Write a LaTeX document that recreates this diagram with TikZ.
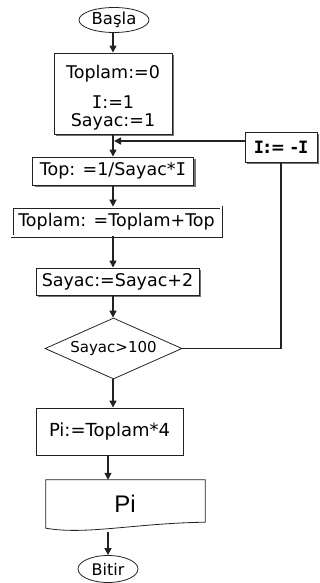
\documentclass[tikz,border=0pt]{standalone}
\usepackage{fontspec}
\setmainfont{DejaVu Sans}
\newfontfamily\pifont{Liberation Sans}
\newfontfamily\serI{DejaVu Sans Mono}
\newcommand\Iv{{\serI I}}
\usetikzlibrary{shapes.geometric,arrows.meta,shadows}
\definecolor{ln}{HTML}{222222}
\begin{document}
\begin{tikzpicture}[x=1pt,y=-1pt,
  box/.style={draw=ln, line width=0.9pt, fill=white, inner sep=0pt},
  shbox/.style={box, drop shadow={shadow xshift=2pt, shadow yshift=-2pt, fill=black!55, opacity=1}},
  txt/.style={font=\fontsize{17.5}{20}\selectfont, inner sep=0pt},
  line/.style={draw=ln, line width=1.5pt},
  arr/.style={line, -{Triangle[length=7pt,width=7pt]}},
  term/.style={ellipse, draw=ln, line width=0.8pt, fill=white, inner sep=0pt}]
\useasboundingbox (0,0) rectangle (320,583);

% nodes
\node[term, minimum width=70pt, minimum height=25pt, font=\fontsize{16.5}{20}\selectfont] (basla) at (114,20) {Başla};
\node[shbox, minimum width=118pt, minimum height=81pt] (box1) at (113,93.5) {};
\node[txt, anchor=base] (t1) at (113,79) {Toplam:=0};
\node[txt, anchor=base] (t2) at (113,109) {\Iv:=1};
\node[txt, anchor=base] (t3) at (113,127) {Sayac:=1};

\node[shbox, minimum width=161pt, minimum height=28pt, txt] (top) at (113,171) {Top: =1/Sayac*\Iv};
\node[box, double=white, double distance=1.6pt, line width=0.7pt, minimum width=209pt, minimum height=29pt, txt] (tt) at (116.5,221.5) {Toplam: =Toplam+Top};
\node[shbox, minimum width=163pt, minimum height=27pt, txt] (say) at (117.5,281.5) {Sayac:=Sayac+2};
\node[diamond, draw=ln, line width=0.8pt, fill=white, inner sep=0pt, shape aspect=2.25,
      minimum width=137pt, minimum height=61pt, font=\fontsize{15}{18}\selectfont] (dia) at (113.5,348.5) {Sayac>100};
\node[shbox, minimum width=72pt, minimum height=30pt, font=\bfseries\fontsize{17}{20}\selectfont] (neg) at (281,147) {\Iv:= -\Iv};
\node[box, minimum width=147pt, minimum height=47pt, font=\fontsize{18}{20}\selectfont] (pibox) at (109.5,431.5) {Pi:=Toplam*4};

\node[minimum width=159pt, minimum height=48pt, inner sep=0pt] (doc) at (125.5,504) {};
\draw[draw=ln, line width=0.8pt, fill=white] (doc.north west) -- (doc.north east) -- ([yshift=6pt]doc.south east)
   .. controls ([xshift=-70pt,yshift=5pt]doc.south east) and ([xshift=40pt,yshift=-7pt]doc.south west) .. (doc.south west) -- cycle;
\node[font=\pifont\fontsize{24}{26}\selectfont, anchor=base, inner sep=0pt] (pitxt) at (125,512) {Pi};
\coordinate (docb) at (108,532);

\node[term, minimum width=60pt, minimum height=27pt, font=\fontsize{16}{18}\selectfont] (bitir) at (108,569) {Bitir};

\coordinate (j) at (113,141);

% connectors
\draw[arr] (basla.south -| box1.north) -- (box1.north);
\draw[line] (box1.south) -- (j);
\draw[arr] (j) -- (top.north);
\draw[arr] ([yshift=6pt]neg.west) -- ([xshift=1pt]j);
\draw[arr] (top.south) -- (top.south |- tt.north);
\draw[arr] (top.south |- tt.south) -- (top.south |- say.north);
\draw[arr] (top.south |- say.south) -- (top.south |- dia.north);
\draw[arr] (top.south |- dia.south) -- (top.south |- pibox.north);
\draw[arr] (pibox.south -| bitir) -- (doc.north -| bitir);
\draw[arr] (docb) -- (bitir.north);
\draw[line] (dia.east) -| (neg.south);
\end{tikzpicture}
\end{document}
